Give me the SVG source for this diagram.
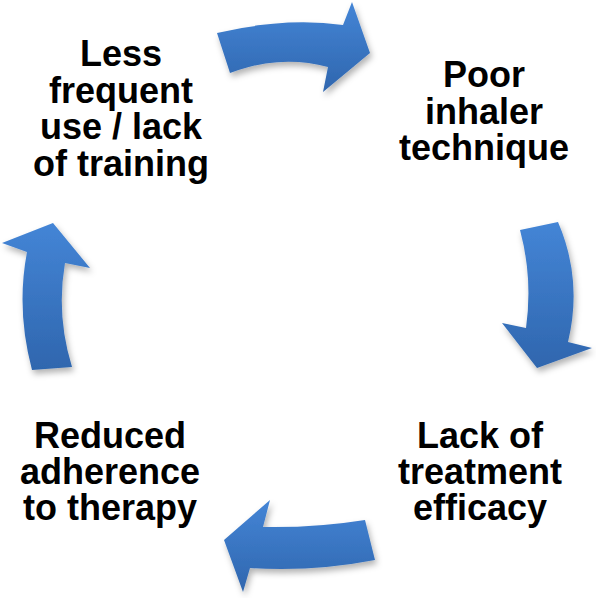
<svg xmlns="http://www.w3.org/2000/svg" width="596" height="598" viewBox="0 0 596 598">
  <defs>
    <linearGradient id="blue" x1="0" y1="0" x2="0" y2="1">
      <stop offset="0" stop-color="#4485d6"/>
      <stop offset="1" stop-color="#2f66ae"/>
    </linearGradient>
    <filter id="shadow" x="-20%" y="-20%" width="140%" height="150%">
      <feDropShadow dx="2" dy="4" stdDeviation="3" flood-color="#000" flood-opacity="0.3"/>
    </filter>
    <style>
      .arrow { fill: url(#blue); filter: url(#shadow); }
      .label { font-family: "Liberation Sans", Arial, sans-serif; font-weight: bold; font-size: 36px; fill: #000; text-anchor: middle; }
    </style>
  </defs>
  <rect width="596" height="598" fill="#fff"/>
  <g id="connectors">
    <path class="arrow" d="M217,33 Q285,17 343,25 L352,2 L370,53 L323,92 L328,67 Q280,54 230,73 Z"/>
    <path class="arrow" d="M520,230 L558,222 Q583,280 568,342 L592,348 L537,368 L502,323 L526,328 Q533,278 520,230 Z"/>
    <path class="arrow" d="M365,520 L375,560 Q313,572 250,568 L243,592 L224,540 L270,500 L263,527 Q315,528 365,520 Z"/>
    <path class="arrow" d="M32,370 Q16,310 27,252 L2,243 L53,223 L90,268 L65,263 Q56,315 72,367 Z"/>
  </g>
  <g id="node-less-frequent">
    <text class="label" x="121" y="66">Less</text>
    <text class="label" x="121" y="102.5">frequent</text>
    <text class="label" x="121" y="139">use / lack</text>
    <text class="label" x="121" y="175.5">of training</text>
  </g>
  <g id="node-poor-technique">
    <text class="label" x="484" y="87">Poor</text>
    <text class="label" x="484" y="123.5">inhaler</text>
    <text class="label" x="484" y="160">technique</text>
  </g>
  <g id="node-lack-efficacy">
    <text class="label" x="480" y="448">Lack of</text>
    <text class="label" x="480" y="484">treatment</text>
    <text class="label" x="480" y="520">efficacy</text>
  </g>
  <g id="node-reduced-adherence">
    <text class="label" x="110" y="448">Reduced</text>
    <text class="label" x="110" y="484">adherence</text>
    <text class="label" x="110" y="520">to therapy</text>
  </g>
</svg>
